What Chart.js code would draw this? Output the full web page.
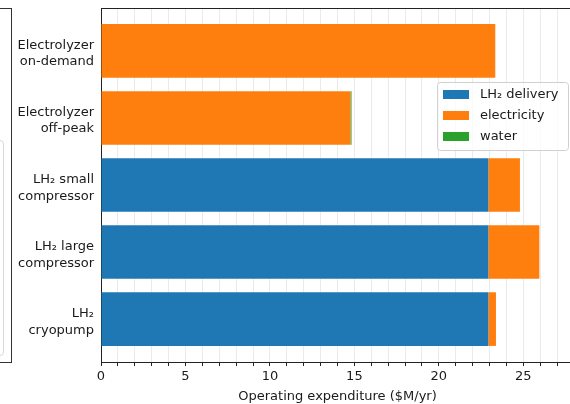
<!DOCTYPE html>
<html>
<head>
<meta charset="utf-8">
<script src="https://cdn.jsdelivr.net/npm/chart.js@4.4.1/dist/chart.umd.min.js"></script>
<style>
  html, body { margin: 0; padding: 0; background: #fff; overflow: hidden; }
  #wrap { position: relative; width: 574px; height: 404px; }
  canvas { position: absolute; left: 0; top: 0; }
  /* edge of the neighbouring subplot, cut off by the crop */
  .prev-axes { position: absolute; left: -9px; top: 8px; width: 21px; height: 355px;
    box-sizing: border-box; border: 1px solid #333; }
  .prev-legend { position: absolute; left: -20px; top: 140px; width: 24px; height: 216px;
    box-sizing: border-box; border: 1px solid #d9d9d9; border-radius: 4px; }
</style>
</head>
<body>
<div id="wrap">
  <div class="prev-axes"></div>
  <div class="prev-legend"></div>
  <canvas id="opexChart" width="574" height="404"></canvas>
</div>
<script>
// bottom to top, like matplotlib barh
const categories = [
  ["LH\u2082", "cryopump"],
  ["LH\u2082 large", "compressor"],
  ["LH\u2082 small", "compressor"],
  ["Electrolyzer", "off-peak"],
  ["Electrolyzer", "on-demand"]
];
const lh2Delivery = [22.93, 22.93, 22.93, 0, 0];
const electricity = [0.45, 3.02, 1.87, 14.77, 23.34];
const water = [0, 0, 0, 0.06, 0];
const xTickLabels = [0, 5, 10, 15, 20, 25];

const FONT = "'DejaVu Sans', sans-serif";
const INK = "#1a1a1a";

function rows(values) {
  return values.map((v, i) => ({ x: v, y: i }));
}

// matplotlib-ish legend box + top spine
const extras = {
  id: "extras",
  afterDraw(chart) {
    const { ctx, chartArea } = chart;
    ctx.save();
    ctx.strokeStyle = "#222";
    ctx.lineWidth = 1;
    ctx.beginPath();
    ctx.moveTo(chartArea.left, chartArea.top + 0.5);
    ctx.lineTo(chartArea.right, chartArea.top + 0.5);
    ctx.stroke();

    const right = chartArea.right - 6;
    const left = right - 131;
    const top = chartArea.top + 74;
    const h = 68;
    ctx.beginPath();
    ctx.roundRect(left + 0.5, top + 0.5, right - left, h, 3);
    ctx.fillStyle = "rgba(255,255,255,0.8)";
    ctx.fill();
    ctx.strokeStyle = "#d0d0d0";
    ctx.stroke();

    ctx.font = "13px " + FONT;
    ctx.textBaseline = "middle";
    chart.data.datasets.forEach((ds, i) => {
      const cy = top + 13 + i * 21;
      ctx.fillStyle = ds.backgroundColor;
      ctx.fillRect(left + 6, cy - 5, 26, 9);
      ctx.fillStyle = INK;
      ctx.fillText(ds.label, left + 43, cy);
    });
    ctx.restore();
  }
};

new Chart(document.getElementById("opexChart"), {
  type: "bar",
  data: {
    datasets: [
      { label: "LH\u2082 delivery", data: rows(lh2Delivery), backgroundColor: "#1f77b4" },
      { label: "electricity", data: rows(electricity), backgroundColor: "#ff7f0e" },
      { label: "water", data: rows(water), backgroundColor: "#2ca02c" }
    ]
  },
  options: {
    indexAxis: "y",
    responsive: false,
    animation: false,
    layout: { padding: { top: 8, left: 0, right: 0, bottom: 0 } },
    datasets: {
      bar: { barPercentage: 0.8, categoryPercentage: 1, borderWidth: 0 }
    },
    plugins: {
      legend: { display: false },
      tooltip: { enabled: false }
    },
    scales: {
      x: {
        type: "linear",
        stacked: true,
        min: 0,
        max: 28,
        z: 1,
        afterBuildTicks(scale) {
          const t = [];
          for (let v = 0; v <= 27; v++) t.push({ value: v });
          scale.ticks = t;
        },
        afterFit(scale) {
          scale.height = 42;
          scale.paddingLeft = 0;
          scale.paddingRight = 0;
        },
        grid: {
          color: "rgba(176,176,176,0.25)",
          tickColor: "#222",
          tickLength: 4
        },
        border: { color: "#222", width: 1 },
        ticks: {
          autoSkip: false,
          maxRotation: 0,
          padding: 3,
          color: INK,
          font: { family: FONT, size: 13 },
          callback: (v) => (xTickLabels.includes(v) ? String(v) : "")
        },
        title: {
          display: true,
          text: "Operating expenditure ($M/yr)",
          color: INK,
          padding: { top: 0, bottom: 0 },
          font: { family: FONT, size: 13 }
        }
      },
      y: {
        type: "linear",
        stacked: true,
        offset: false,
        min: -0.64,
        max: 4.64,
        z: 1,
        afterBuildTicks(scale) {
          scale.ticks = categories.map((c, i) => ({ value: i }));
        },
        afterFit(scale) {
          scale.width = 101;
          scale.paddingTop = 0;
          scale.paddingBottom = 0;
        },
        grid: { display: false, drawTicks: false, offset: false },
        border: { display: true, color: "#222", width: 1 },
        ticks: {
          autoSkip: false,
          padding: 7,
          labelOffset: 3,
          color: INK,
          font: { family: FONT, size: 13, lineHeight: 1.25 },
          callback: (v) => categories[v]
        }
      }
    }
  },
  plugins: [extras]
});
</script>
</body>
</html>
